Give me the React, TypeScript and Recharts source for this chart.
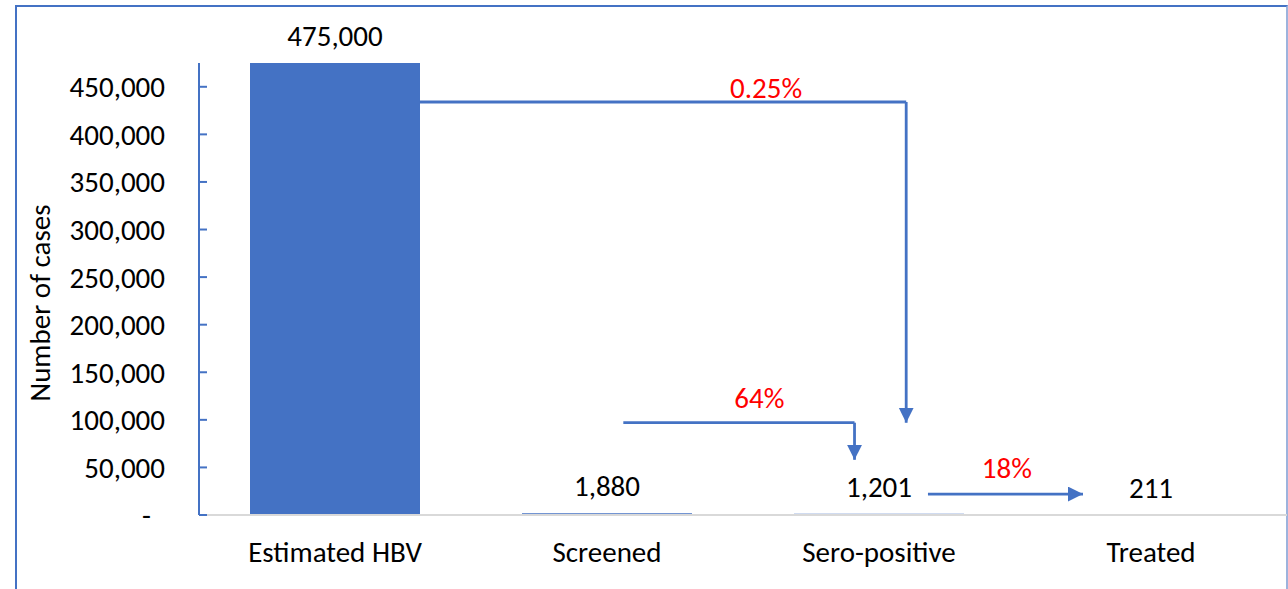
import { BarChart, Bar, XAxis, YAxis, LabelList, ReferenceLine, ReferenceDot } from "recharts";

const categories = ["Estimated HBV", "Screened", "Sero-positive", "Treated"];
const cases = [475000, 1880, 1201, 211];
const yTicks = [0, 50000, 100000, 150000, 200000, 250000, 300000, 350000, 400000, 450000];

// connector arrows, x in category position units (0..4), y in cases
const flowPaths = [
  [[0.81, 434000], [2.6, 434000], [2.6, 97000]],
  [[1.56, 97000], [2.41, 97000], [2.41, 58000]],
  [[2.68, 22000], [3.25, 22000]],
];
const flowLabels = ["0.25%", "64%", "18%"];
const flowLabelX = [2.085, 2.06, 2.97];
const flowLabelY = [449000, 123000, 50000];

// pos = centre of each category slot on the 0..4 helper axis
const data = categories.map((name, i) => ({ name, cases: cases[i], pos: i + 0.5 }));

const BLUE = "#4472C4";
const FONT = "Carlito, Calibri, Lato, sans-serif";
const FS = 29;
const fmt = (v: number) => v.toLocaleString("en-US");

const YTick = (props: any) => {
  const { x, y, payload } = props;
  const zero = payload.value === 0;
  return (
    <text x={zero ? x - 14 : x} y={y} dy="0.36em" textAnchor="end" fill="#000" fontSize={FS} fontFamily={FONT}>
      {zero ? "-" : fmt(payload.value)}
    </text>
  );
};

const arrowShape = (id: string, head: boolean) => (p: any) => (
  <g>
    {head && (
      <defs>
        <marker id={id} markerUnits="userSpaceOnUse" markerWidth={16} markerHeight={16} refX={15} refY={7.5} orient="auto">
          <path d="M0,0 L15,7.5 L0,15 z" fill={BLUE} />
        </marker>
      </defs>
    )}
    <line
      x1={p.x1}
      y1={p.y1}
      x2={p.x2}
      y2={p.y2}
      stroke={BLUE}
      strokeWidth={2.8}
      markerEnd={head ? `url(#${id})` : undefined}
    />
  </g>
);

export default function App() {
  return (
    <div style={{ position: "absolute", left: 0, top: 0, width: 1288, height: 589, overflow: "hidden", background: "#fff" }}>
      <div
        style={{
          position: "absolute",
          left: 15,
          top: 5,
          width: 1269,
          height: 700,
          borderLeft: `2px solid ${BLUE}`,
          borderTop: `2px solid ${BLUE}`,
          borderRight: "2px solid #9DB3DD",
        }}
      />
      <div style={{ position: "absolute", left: 0, top: 0 }}>
        <BarChart width={1288} height={589} data={data} margin={{ top: 63, right: 1, left: 0, bottom: 0 }} style={{ fontFamily: FONT }}>
          <XAxis
            dataKey="name"
            height={74}
            tickLine={false}
            tickSize={0}
            tickMargin={26}
            axisLine={{ stroke: "#D9D9D9", strokeWidth: 2 }}
            tick={{ fill: "#000", fontSize: FS, fontFamily: FONT }}
          />
          <XAxis xAxisId="pos" dataKey="pos" type="number" domain={[0, 4]} allowDataOverflow hide />
          <YAxis
            width={199}
            domain={[0, 475000]}
            ticks={yTicks}
            interval={0}
            tickSize={-8}
            tickMargin={42}
            axisLine={{ stroke: BLUE, strokeWidth: 2 }}
            tickLine={{ stroke: BLUE, strokeWidth: 2 }}
            tick={<YTick />}
            label={{
              content: ({ viewBox }: any) => (
                <text
                  x={viewBox.x + 40}
                  y={viewBox.y + viewBox.height / 2 + 14}
                  transform={`rotate(-90, ${viewBox.x + 40}, ${viewBox.y + viewBox.height / 2 + 14})`}
                  textAnchor="middle"
                  dominantBaseline="central"
                  fill="#000"
                  fontSize={FS}
                  fontFamily={FONT}
                >
                  Number of cases
                </text>
              ),
            }}
          />
          <Bar dataKey="cases" fill={BLUE} barSize={170} isAnimationActive={false}>
            <LabelList dataKey="cases" position="top" offset={17} formatter={(v: any) => fmt(Number(v))} fill="#000" fontSize={FS} fontFamily={FONT} />
          </Bar>
          {flowPaths.map((path, i) =>
            path.slice(1).map((pt, j) => (
              <ReferenceLine
                key={`f${i}-${j}`}
                xAxisId="pos"
                segment={[
                  { x: path[j][0], y: path[j][1] },
                  { x: pt[0], y: pt[1] },
                ]}
                ifOverflow="visible"
                shape={arrowShape(`arrow${i}`, j === path.length - 2)}
              />
            ))
          )}
          {flowLabels.map((t, i) => (
            <ReferenceDot
              key={`l${i}`}
              xAxisId="pos"
              x={flowLabelX[i]}
              y={flowLabelY[i]}
              r={0.01}
              fill="none"
              stroke="none"
              ifOverflow="visible"
              label={{ value: t, position: "center", fill: "#FF0000", fontSize: FS, fontFamily: FONT }}
            />
          ))}
        </BarChart>
      </div>
    </div>
  );
}
